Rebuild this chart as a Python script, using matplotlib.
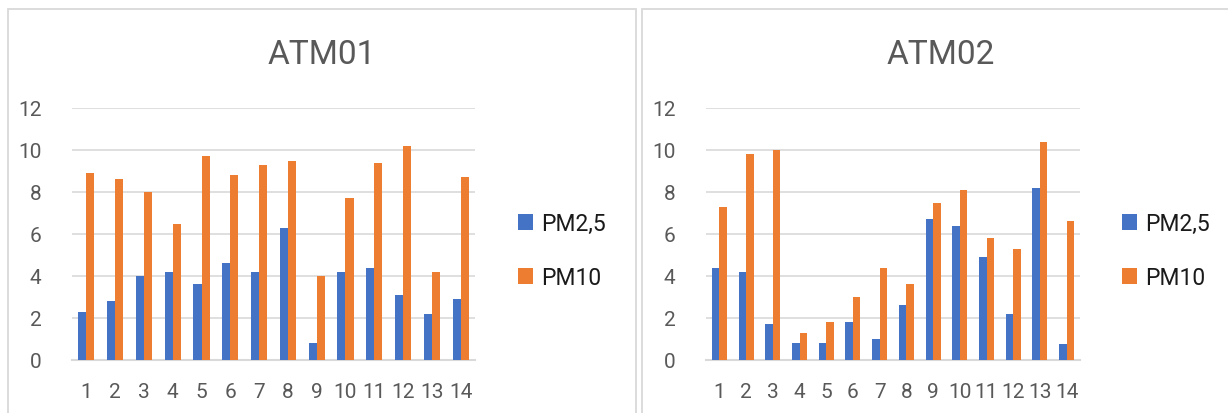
import numpy as np
import matplotlib
matplotlib.use("Agg")
import matplotlib.pyplot as plt
from matplotlib.patches import Rectangle

plt.rcParams["font.family"] = ["Roboto", "DejaVu Sans"]

DAYS = [str(i) for i in range(1, 15)]
SERIES = ["PM2,5", "PM10"]
COLORS = ["#4472C4", "#ED7D31"]

atm01_pm25 = [2.3, 2.8, 4.0, 4.2, 3.6, 4.6, 4.2, 6.3, 0.8, 4.2, 4.4, 3.1, 2.2, 2.9]
atm01_pm10 = [8.9, 8.6, 8.0, 6.5, 9.7, 8.8, 9.3, 9.5, 4.0, 7.7, 9.4, 10.2, 4.2, 8.7]
atm02_pm25 = [4.4, 4.2, 1.7, 0.8, 0.8, 1.8, 1.0, 2.6, 6.7, 6.4, 4.9, 2.2, 8.2, 0.75]
atm02_pm10 = [7.3, 9.8, 10.0, 1.3, 1.8, 3.0, 4.4, 3.6, 7.5, 8.1, 5.8, 5.3, 10.4, 6.6]

W, H = 1228, 414
fig = plt.figure(figsize=(W / 100, H / 100), dpi=100)

GRID = "#D9D9D9"
TXT = "#595959"

def px_axes(x0, x1, ytop, ybot):
    return fig.add_axes([x0 / W, 1 - ybot / H, (x1 - x0) / W, (ybot - ytop) / H])

panels = [
    # title, data, plot area, panel box, title x, legend x
    ("ATM01", (atm01_pm25, atm01_pm10), (72, 475), (8, 636), 322, 518),
    ("ATM02", (atm02_pm25, atm02_pm10), (706, 1080), (642, 1240), 941, 1122),
]

for title, data, (ax0, ax1), (bx0, bx1), tx, lx in panels:
    # chart border
    fig.patches.append(Rectangle((bx0 / W, -0.1), (bx1 - bx0) / W, 0.1 + 1 - 10 / H,
                                 transform=fig.transFigure, fill=False,
                                 edgecolor=GRID, linewidth=1.3))
    ax = px_axes(ax0, ax1, 109, 361)
    x = np.arange(len(DAYS))
    w = 0.28
    for i, (vals, name, col) in enumerate(zip(data, SERIES, COLORS)):
        ax.bar(x + (i - 0.5) * w, vals, w, color=col, label=name, zorder=3)
    ax.set_xlim(-0.5, len(DAYS) - 0.5)
    ax.set_ylim(0, 12)
    ax.set_yticks(range(0, 13, 2))
    ax.set_xticks(x)
    ax.set_xticklabels(DAYS)
    ax.grid(axis="y", color=GRID, linewidth=1.2, zorder=0)
    for s in ["top", "right", "left"]:
        ax.spines[s].set_visible(False)
    ax.spines["bottom"].set_color(GRID)
    ax.spines["bottom"].set_linewidth(1.5)
    ax.tick_params(axis="both", length=0, labelsize=15, colors=TXT)
    ax.tick_params(axis="x", pad=16)
    ax.tick_params(axis="y", pad=22)
    fig.text(tx / W, 1 - 55 / H, title, ha="center", va="center",
             fontsize=24, color=TXT)
    ax.legend(loc="center left", bbox_to_anchor=(lx / W, 1 - 251.5 / H),
              bbox_transform=fig.transFigure, frameon=False, borderpad=0,
              borderaxespad=0, handlelength=0.65, handleheight=0.65,
              handletextpad=0.35, labelspacing=1.35, fontsize=16.5,
              labelcolor="#1a1a1a")

fig.savefig("out.png", dpi=100)
